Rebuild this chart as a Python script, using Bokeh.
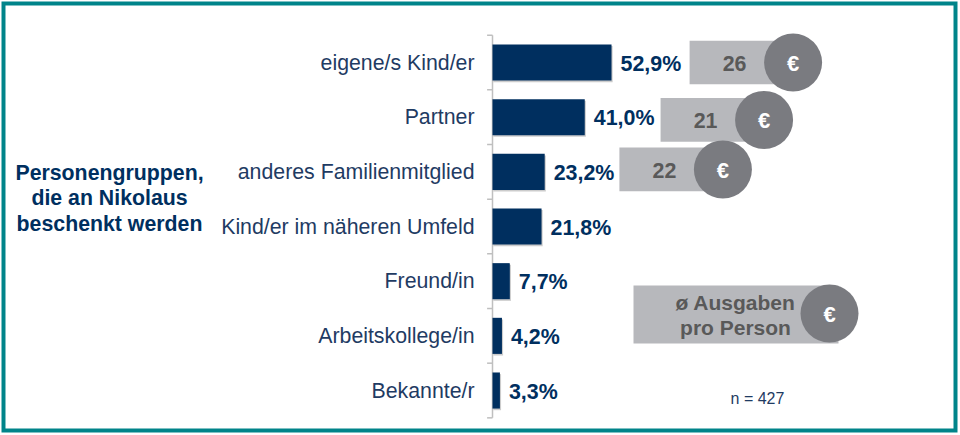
from bokeh.plotting import figure
from bokeh.models import Range1d
from bokeh.core.properties import value
from bokeh.embed import file_html
from bokeh.resources import INLINE

categories = ["eigene/s Kind/er", "Partner", "anderes Familienmitglied",
              "Kind/er im näheren Umfeld", "Freund/in", "Arbeitskollege/in", "Bekannte/r"]
shares = [52.9, 41.0, 23.2, 21.8, 7.7, 4.2, 3.3]
share_labels = ["52,9%", "41,0%", "23,2%", "21,8%", "7,7%", "4,2%", "3,3%"]
spend_rows = [0, 1, 2]
spend = [26, 21, 22]
title_lines = ["Personengruppen,", "die an Nikolaus", "beschenkt werden"]
legend_lines = ["ø Ausgaben", "pro Person"]
sample_note = "n = 427"

W, H = 960, 435
NAVY = "#002F5F"
TEAL = "#00848A"
BOX = "#B7B8BC"
DISC = "#7A7B80"
INK = "#595959"
FONT = value("Liberation Sans")

# main scales: 2.25 px per percent, 54.67 px per row
PX_PCT = 2.25
PX_ROW = 54.67
X0, Y0 = 492, 62
p = figure(width=W, height=H, output_backend="svg", toolbar_location=None,
           x_range=Range1d(-X0 / PX_PCT, (W - X0) / PX_PCT),
           y_range=Range1d((H - Y0) / PX_ROW, -Y0 / PX_ROW),
           min_border=0, x_axis_type=None, y_axis_type=None)
p.grid.visible = False
p.outline_line_color = None
p.background_fill_color = "white"
p.border_fill_color = "white"
p.extra_x_ranges["px"] = Range1d(0, W)
p.extra_y_ranges["px"] = Range1d(H, 0)
PX = dict(x_range_name="px", y_range_name="px")

rows = list(range(len(categories)))

# frame
p.quad(left=[3], right=[955], top=[3], bottom=[430], fill_color=None,
       line_color=TEAL, line_width=4, line_join="miter", **PX)

# axis
p.segment(x0=[0], x1=[0], y0=[-0.5], y1=[len(rows) - 0.5], line_color="#BFBFBF", line_width=1.5)
edges = [i - 0.5 for i in range(len(rows) + 1)]
p.segment(x0=[-2.4] * len(edges), x1=[0] * len(edges), y0=edges, y1=edges,
          line_color="#BFBFBF", line_width=1.5)

# bars, with soft shadow
p.hbar(y=[r + 0.03 for r in rows], left=[0.4] * len(rows), right=[s + 0.5 for s in shares], height=0.66,
       fill_color="#808080", fill_alpha=0.4, line_color=None)
p.hbar(y=rows, left=0, right=shares, height=0.66, fill_color=NAVY, line_color=None)

p.text(x=[-8.0] * len(rows), y=rows, text=categories, text_align="right", text_baseline="middle",
       text_font=FONT, text_font_size="21.3px", text_color="#1F3B63")
p.text(x=shares, y=rows, text=share_labels, x_offset=9, y_offset=1, text_align="left",
       text_baseline="middle", text_font=FONT, text_font_size="21.4px", text_font_style="bold",
       text_color=NAVY)

# spending badges follow the bar ends
row_nudge = [0, 0.05, -0.045]
box_gap = [34.7, 33.7, 33.2]
box_y = [r + n for r, n in zip(spend_rows, row_nudge)]
box_left = [shares[r] + g for r, g in zip(spend_rows, box_gap)]
p.hbar(y=box_y, left=box_left, right=[b + 50 for b in box_left], height=0.8,
       fill_color=BOX, line_color=None)
p.text(x=[b + 20 for b in box_left], y=box_y, text=[str(v) for v in spend], text_align="center",
       text_baseline="middle", y_offset=1, text_font=FONT, text_font_size="21.4px",
       text_font_style="bold", text_color=INK)
disc_x = [b + 46 for b in box_left]
p.scatter(x=disc_x, y=box_y, size=58, marker="circle", fill_color=DISC, line_color=None)
p.text(x=disc_x, y=box_y, text=["€"] * len(box_y), text_align="center", text_baseline="middle",
       y_offset=1, text_font=FONT, text_font_size="22px", text_font_style="bold", text_color="white")

# left title
p.text(x=[109] * 3, y=[172, 197.5, 223], text=title_lines, text_align="center", text_baseline="middle",
       text_font=FONT, text_font_size="21.3px", text_font_style="bold", text_color=NAVY, **PX)

# legend
p.quad(left=[633], right=[838], top=[285], bottom=[343], fill_color=BOX, line_color=None, **PX)
p.text(x=[735, 735], y=[302, 327], text=legend_lines, text_align="center", text_baseline="middle",
       text_font=FONT, text_font_size="21px", text_font_style="bold", text_color=INK, **PX)
p.scatter(x=[829], y=[313], size=58, marker="circle", fill_color=DISC, line_color=None, **PX)
p.text(x=[829], y=[314], text=["€"], text_align="center", text_baseline="middle",
       text_font=FONT, text_font_size="22px", text_font_style="bold", text_color="white", **PX)

p.text(x=[757], y=[398], text=[sample_note], text_align="center", text_baseline="middle",
       text_font=FONT, text_font_size="16px", text_color="#1F3B63", **PX)

open("out.html", "w").write(file_html(p, INLINE))
